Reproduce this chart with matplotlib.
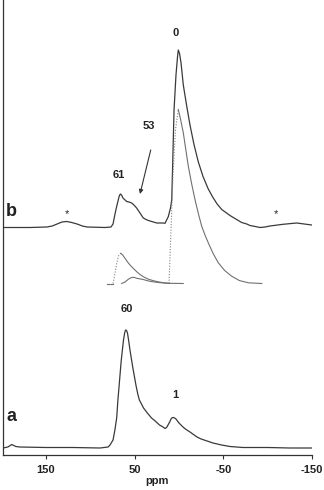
import numpy as np
import matplotlib.pyplot as plt

plt.rcParams['font.family'] = ['Liberation Sans', 'DejaVu Sans']

# trace a (ppm, intensity above its baseline)
a_ppm = [198.5, 193, 188.7, 184, 179.7, 150, 120, 89, 80, 77.8, 74.4, 72.3, 70.3,
         68.9, 67, 65.1, 62.6, 61.3, 60.3, 59.2, 58.1, 56.7, 55.3, 52.2, 48.6, 46.5,
         44.7, 42.3, 40, 35.7, 31, 26.8, 22, 18.0, 15.8, 14, 12.4, 10.5, 9.0, 7.7,
         6.4, 5, 3.4, 0, -4.5, -8, -12.4, -16.3, -20.3, -25, -30, -38.3, -48, -57.5,
         -72, -100, -125, -150]
a_int = [0, 1, 3.5, 1.5, 1, 0.5, 0.5, 0, 1, 3, 8, 18, 30,
         48, 68, 88, 108, 115, 118, 117.5, 115, 107, 98, 81, 63, 54,
         48, 44, 40, 35, 30, 27, 23, 21, 19.5, 20.5, 23, 26, 29, 30.3,
         30.5, 30, 29, 25, 21, 18.5, 16, 13.5, 11, 9, 7.5, 5, 3, 1.5,
         0.5, 0.5, 0, 0]

# trace b
b_ppm = [198.5, 168, 149, 143, 137.5, 132, 126.6, 121, 115, 109, 103.6, 83.5,
         76.7, 74.4, 72.2, 70.3, 67.7, 66.7, 65.8, 64.5, 63.2, 59, 56.4, 53.4, 50.8,
         47.8, 44, 40.3, 36, 32.7, 25.1, 18, 15.8, 12.1, 9.6, 8.2, 7.3, 5.6, 3.4,
         1.7, 0.8, -0.6, -2.3, -4.85, -8.5, -12.4, -16.9, -21.8, -27.1, -33.0,
         -38.3, -43, -48.2, -57.5, -64, -70.7, -76.4, -80.1, -86, -91.4, -97,
         -102.6, -117.3, -132.7, -149.7]
b_int = [0, 0, 0.5, 1.5, 3.5, 5.5, 6, 5, 3.5, 1.5, 0.5, 0,
         0.5, 3.5, 13.5, 21, 30.5, 32.8, 33.5, 32, 29.5, 26, 25.5, 24.5, 22.5,
         19.5, 14.5, 9.5, 7.5, 6.5, 4.5, 4.5, 4.2, 10.8, 19.5, 27.5, 57.5, 117.5, 152.5,
         170.5, 177.5, 174, 164.5, 142.5, 122.5, 102.5, 83, 65.5, 51, 38.5,
         30, 23.5, 18, 12, 8.5, 5, 3.5, 2, 1, 0, 0.5,
         1.5, 3.2, 4.5, 2.5]

# fitted components under b (rise drawn dotted, decay solid)
c0_rise_ppm = [11.3, 9.0, 6.8, 3.9, 0.8]
c0_rise_int = [0, 54, 109, 154, 174]
c0_ppm = [0.8, -1.8, -4.8, -7.5, -10.5, -14.2, -18.0, -21.8, -25.6, -29.3, -33.0,
          -38.5, -44.3, -51.5, -59.4, -68, -78.2, -93.3]
c0_int = [174, 164, 151, 135, 117.3, 100, 84, 70, 57.3, 48.5, 40.7,
          30, 20.7, 13, 7.3, 3, 0.7, 0]

c61_rise_ppm = [74.4, 72.2, 70.3, 68.2, 65.7]
c61_rise_int = [0, 10.2, 20.2, 27.5, 30.2]
c61_ppm = [65.7, 63.5, 60.9, 58, 55.3, 51.5, 47.7, 44, 40.3, 35, 29.0, 23,
           17.7, 10.1, -4.8]
c61_int = [30.2, 28.5, 25.2, 21.5, 18.5, 15, 11.8, 9, 6.8, 4.5, 2.8, 1.6,
           0.8, 0.2, 0]

c53_ppm = [64.6, 60.9, 57.2, 54.5, 52.2, 50, 47.7, 44, 40.3, 36.5, 32.7, 27, 21.4, 10.1]
c53_int = [0, 1.5, 4.2, 5.6, 6.2, 6, 5.2, 4.6, 4, 3, 2.2, 1.4, 0.8, 0]

base_ppm = [81.2, 74.4]

off_a = 7
off_b = 227.5
off_c = 171.5

fig = plt.figure(figsize=(3.24, 4.90), dpi=100)
ax = fig.add_axes([3 / 324, 35 / 490, 309 / 324, 455 / 490])

line = dict(color='#3a3a3a', lw=0.9, solid_joinstyle='round')
comp = dict(color='#707070', lw=0.8, solid_joinstyle='round')

ax.plot(a_ppm, np.array(a_int) + off_a, **line)
ax.plot(b_ppm, np.array(b_int) + off_b, **line)

ax.plot(c0_rise_ppm, np.array(c0_rise_int) + off_c, color='#808080', lw=0.8, ls=(0, (1, 1.5)))
ax.plot(c0_ppm, np.array(c0_int) + off_c, **comp)
ax.plot(c61_rise_ppm, np.array(c61_rise_int) + off_c, color='#808080', lw=0.8, ls=(0, (1, 1.5)))
ax.plot(c61_ppm, np.array(c61_int) + off_c, **comp)
ax.plot(c53_ppm, np.array(c53_int) + off_c, **comp)
ax.plot(base_ppm, [off_c, off_c], **comp)

ax.set_xlim(198.5, -150)
ax.set_ylim(0, 455)
ax.set_xticks([150, 50, -50, -150])
ax.set_xticklabels(['150', '50', '-50', '-150'])
ax.set_yticks([])
for s in ['top', 'right']:
    ax.spines[s].set_visible(False)
for s in ['left', 'bottom']:
    ax.spines[s].set_color('#333333')
    ax.spines[s].set_linewidth(0.9)
ax.tick_params(axis='x', direction='out', length=3, width=0.8, color='#333333',
               labelsize=8, labelcolor='#222222', pad=4)
for t in ax.get_xticklabels():
    t.set_fontweight('bold')
ax.set_xlabel('ppm', fontsize=8, fontweight='bold', color='#222222', labelpad=1)

txt = dict(fontsize=8, fontweight='bold', color='#222222', ha='center', va='center')
ax.text(3.4, 422, '0', **txt)
ax.text(34.6, 329, '53', **txt)
ax.text(68.5, 280, '61', **txt)
ax.text(58.6, 146, '60', **txt)
ax.text(4.5, 60, '1', **txt)
ax.text(126.6, 241, '*', fontsize=8, color='#222222', ha='center', va='center')
ax.text(-109, 241, '*', fontsize=8, color='#222222', ha='center', va='center')
ax.text(188.7, 244, 'b', fontsize=13, fontweight='bold', color='#222222', ha='center', va='center')
ax.text(188.7, 39, 'a', fontsize=13, fontweight='bold', color='#222222', ha='center', va='center')

ax.annotate('', xy=(44, 261), xytext=(31.9, 305),
            arrowprops=dict(arrowstyle='-|>', color='#333333', lw=0.8,
                            mutation_scale=6, shrinkA=0, shrinkB=0))

fig.savefig('out.png', dpi=100)
